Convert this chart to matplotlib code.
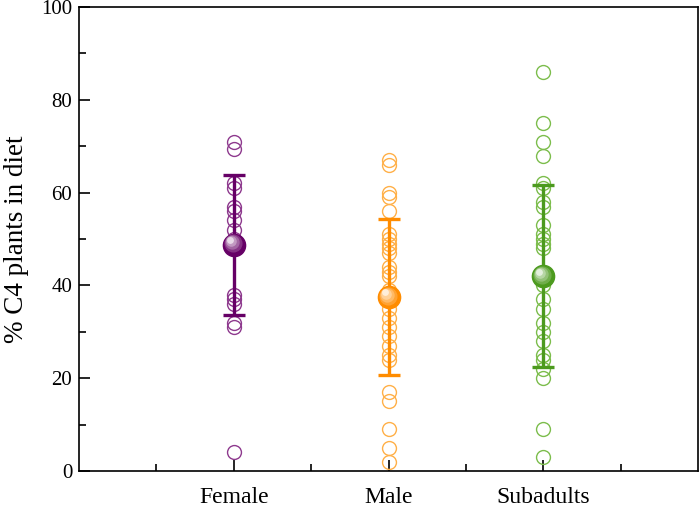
import numpy as np
import matplotlib.pyplot as plt
from matplotlib.ticker import MultipleLocator, FixedLocator
from matplotlib.colors import to_rgb

plt.rcParams['font.family'] = ['Liberation Serif', 'DejaVu Serif']

groups = ['Female', 'Male', 'Subadults']
female = [71, 69.5, 62, 61, 57, 56, 54, 52, 50, 38, 37, 36, 32, 31, 4]
male = [67, 66, 60, 59, 56, 51, 50, 49, 48, 47, 44, 43, 42, 39, 38, 35, 33,
        31, 29, 27, 25, 24, 17, 15, 9, 5, 2]
subadults = [86, 75, 71, 68, 62, 61, 58, 57, 53, 51, 50, 49, 48, 40, 37, 35,
             32, 30, 28, 25, 24, 22, 20, 9, 3]
means = [48.8, 37.5, 42.0]
sds = [15.1, 16.8, 19.6]

dark = ['#660066', '#ff8c00', '#4c9a1e']
light = ['#8e3a8e', '#ffb048', '#7cbd4c']

fig = plt.figure(figsize=(7, 5.07), dpi=100)
ax = fig.add_axes([0.113, 0.071, 0.884, 0.915])

for i, vals in enumerate([female, male, subadults]):
    x = i + 1
    ax.plot([x] * len(vals), vals, 'o', mfc='none', mec=light[i], ms=10, mew=1, zorder=2)
    ax.errorbar(x, means[i], yerr=sds[i], color=dark[i], lw=2.4, capsize=8,
                capthick=2.4, zorder=3)
    # shaded ball for the mean
    ax.plot(x, means[i], 'o', color=dark[i], ms=16, zorder=4)
    c0 = np.array(to_rgb(dark[i]))
    for k, f in enumerate([0.2, 0.4, 0.6, 0.85]):
        c = c0 + (1 - c0) * f
        ax.plot(x - 0.006 * (k + 1), means[i] + 0.25 * (k + 1), 'o',
                color=c, ms=12 - 2.7 * k, zorder=5 + k)

ax.set_xlim(0, 4)
ax.set_ylim(0, 100)
ax.xaxis.set_major_locator(FixedLocator([1, 2, 3]))
ax.xaxis.set_minor_locator(FixedLocator([0.5, 1.5, 2.5, 3.5]))
ax.set_xticklabels(groups)
ax.yaxis.set_major_locator(MultipleLocator(20))
ax.yaxis.set_minor_locator(MultipleLocator(10))
ax.tick_params(which='both', direction='in', width=1.2)
ax.tick_params(axis='x', labelsize=17)
ax.tick_params(axis='y', labelsize=15)
ax.tick_params(which='major', length=8)
ax.tick_params(which='minor', length=5)
ax.tick_params(axis='x', which='major', pad=11.5)
ax.tick_params(axis='y', pad=5)
for s in ax.spines.values():
    s.set_linewidth(1.2)
ax.set_ylabel('% C4 plants in diet', fontsize=19.5, labelpad=9)

fig.savefig('out.png', dpi=100)
